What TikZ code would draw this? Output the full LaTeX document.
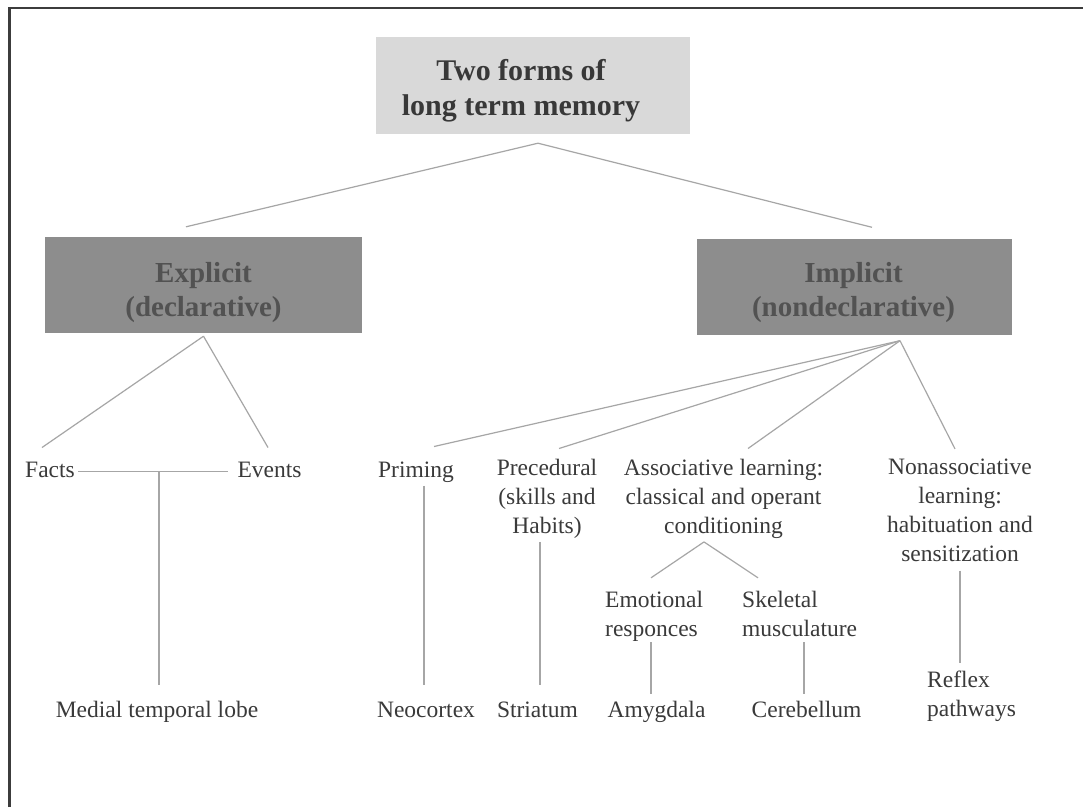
\documentclass[tikz,border=0pt]{standalone}
\usepackage{fontspec}
\setmainfont{Liberation Serif}
\definecolor{linegray}{HTML}{A6A6A6}
\definecolor{textgray}{HTML}{3A3A3A}
\definecolor{framegray}{HTML}{3C3C3C}
\definecolor{titlefill}{HTML}{D9D9D9}
\definecolor{titletext}{HTML}{383838}
\definecolor{darkfill}{HTML}{8D8D8D}
\definecolor{darktext}{HTML}{525252}
\begin{document}
\begin{tikzpicture}[x=1pt,y=-1pt,
  conn/.style={draw=linegray, line width=1.2pt},
  txt/.style={font=\fontsize{23.5}{29}\selectfont, text=textgray, inner sep=0pt, align=center,
    execute at begin node=\strut, execute at end node=\strut},
  txtl/.style={txt, align=left, anchor=west},
  titlebox/.style={inner sep=0pt, fill=titlefill, minimum width=314pt, minimum height=97pt},
  titlelabel/.style={inner sep=0pt, align=center, text=titletext, font=\bfseries\fontsize{30}{35}\selectfont},
  kindbox/.style={inner sep=0pt, fill=darkfill, minimum height=96pt},
  kindlabel/.style={inner sep=0pt, align=center, text=darktext, font=\bfseries\fontsize{29}{34}\selectfont},
  frameline/.style={draw=framegray, line width=2.2pt}
]
\fill[white] (0,0) rectangle (1083,807);
\useasboundingbox (0,0) rectangle (1083,807);
\draw[frameline] (9.5,807) -- (9.5,8) -- (1083,8);

% boxes
\node[titlebox] (title) at (533,85.5) {};
\node[titlelabel] (titlet) at ([shift={(-12,5)}]title.center) {Two forms of\\long term memory};
\node[kindbox, minimum width=317pt] (expl) at (203.5,285) {};
\node[kindlabel] (explt) at ([shift={(0,8)}]expl.center) {Explicit\\(declarative)};
\node[kindbox, minimum width=315pt] (impl) at (854.5,286.5) {};
\node[kindlabel] (implt) at ([shift={(-1,6)}]impl.center) {Implicit\\(nondeclarative)};

% first row
\node[txt] (facts) at (50,471.2) {Facts};
\node[txt] (events) at (269.5,471.2) {Events};
\node[txt] (priming) at (416,471.2) {Priming};
\node[txt] (proc) at (547,500.2) {Precedural\\(skills and\\Habits)};
\node[txt] (assoc) at (723.5,500.2) {Associative learning:\\classical and operant\\conditioning};
\node[txt] (nonassoc) at (960,514.7) {Nonassociative\\learning:\\habituation and\\sensitization};

% second row
\node[txtl] (emo) at (605,617.7) {Emotional\\responces};
\node[txtl] (skel) at (742,617.7) {Skeletal\\musculature};

% bottom row
\node[txt] (mtl) at (157,711.2) {Medial temporal lobe};
\node[txt] (neo) at (426,711.2) {Neocortex};
\node[txt] (stri) at (537.5,711.2) {Striatum};
\node[txt] (amyg) at (656.5,711.2) {Amygdala};
\node[txt] (cereb) at (806.5,711.2) {Cerebellum};
\node[txtl] (reflex) at (927,698.2) {Reflex\\pathways};

% connectors from the title
\draw[conn] ([shift={(5,9)}]title.south) -- ([shift={(-17.5,-10)}]expl.north);
\draw[conn] ([shift={(5,9)}]title.south) -- ([shift={(17.5,-11)}]impl.north);

% explicit branch
\draw[conn] ([shift={(0,3)}]expl.south) -- ([shift={(-8,-9)}]facts.north);
\draw[conn] ([shift={(0,3)}]expl.south) -- ([shift={(-1.5,-9)}]events.north);
\draw[conn, shorten <=3pt, shorten >=9pt] (facts) -- (events);
\coordinate (fe) at (159,471.2);
\draw[conn] (fe) -- ([shift={(2,-12)}]mtl.north);

% implicit branch
\draw[conn] ([shift={(45.5,6)}]impl.south) -- ([shift={(18,-10)}]priming.north);
\draw[conn] ([shift={(45.5,6)}]impl.south) -- ([shift={(12,-10)}]proc.north);
\draw[conn] ([shift={(45.5,6)}]impl.south) -- ([shift={(24.5,-10)}]assoc.north);
\draw[conn] ([shift={(45.5,6)}]impl.south) -- ([shift={(-5,-10)}]nonassoc.north);

\draw[conn] ([shift={(8,0)}]priming.south) -- ([shift={(-2,-12)}]neo.north);
\draw[conn] ([shift={(-7,0)}]proc.south) -- ([shift={(2.5,-12)}]stri.north);

\draw[conn] ([shift={(-19.5,0)}]assoc.south) -- ([shift={(46,-12.7)}]emo.north west);
\draw[conn] ([shift={(-19.5,0)}]assoc.south) -- ([shift={(16,-12.7)}]skel.north west);
\draw[conn] ([shift={(46,-2.7)}]emo.south west) -- ([shift={(-5.5,-2.7)}]amyg.north);
\draw[conn] ([shift={(62,-2.7)}]skel.south west) -- ([shift={(-2.5,-2.7)}]cereb.north);
\draw[conn] (nonassoc.south) -- ([shift={(33,-7.7)}]reflex.north west);
\end{tikzpicture}
\end{document}
